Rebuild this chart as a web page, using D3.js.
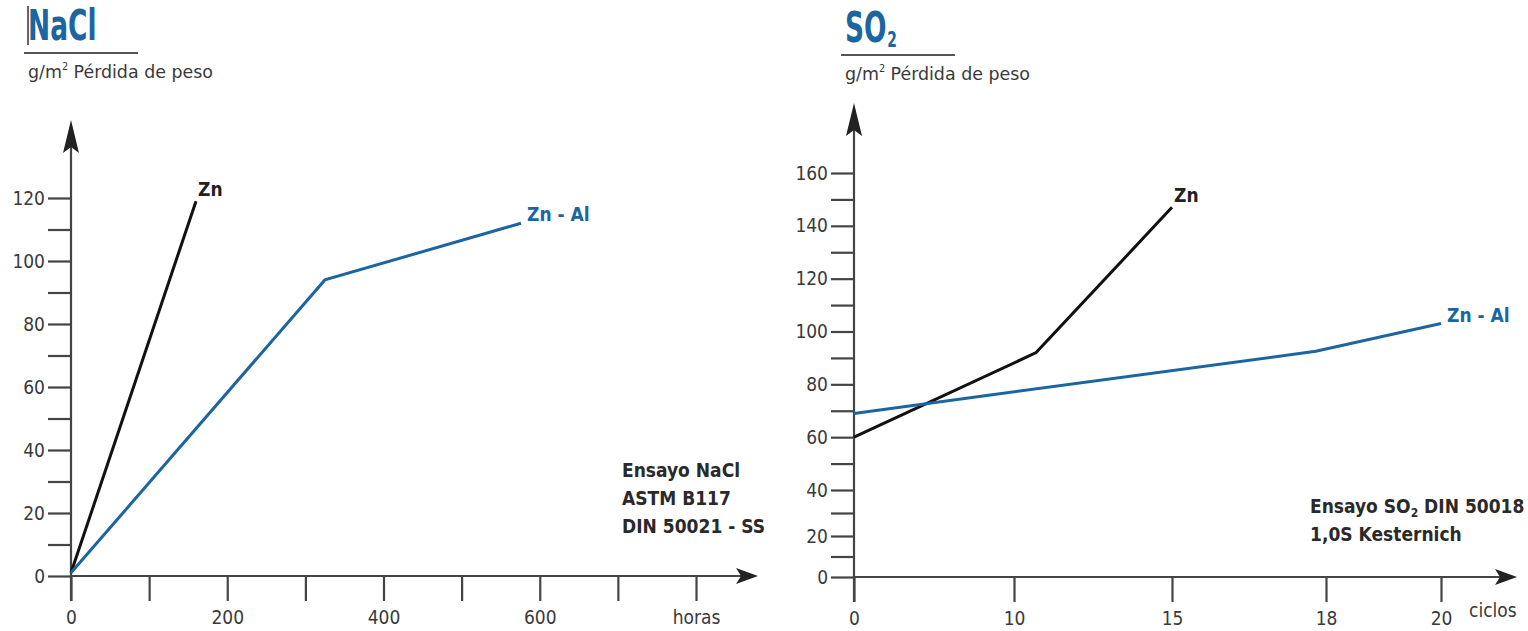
<!DOCTYPE html>
<html>
<head>
<meta charset="utf-8">
<script src="https://cdn.jsdelivr.net/npm/d3@7"></script>
<style>
  body { margin: 0; background: #fff; }
  text { font-family: "Liberation Sans Narrow", "DejaVu Sans Condensed", "Liberation Sans", sans-serif; }
</style>
</head>
<body>
<div id="chart"></div>
<script>
const width = 1528
const height = 631
const blue = "#1b65a1"
const ink = "#3a3a3a"

// datos NaCl
const naclTicksY = d3.range(0, 130, 10)
const naclTicksX = d3.range(0, 900, 100)
const naclLabelsX = {0: "0", 200: "200", 400: "400", 600: "600", 800: "horas"}
const naclZn = [[0, 1], [160, 119]]
const naclZnAl = [[0, 1], [325, 94], [576, 112]]
const naclNotes = ["Ensayo NaCl", "ASTM B117", "DIN 50021 - SS"]

// datos SO2
const so2TicksY = d3.range(0, 170, 10)
const so2TicksX = [0, 10, 15, 18, 20]
const so2Zn = [[0, 60], [10.7, 92], [15, 147]]
const so2ZnAl = [[0, 69], [17.8, 92.5], [20, 103]]

const svg = d3.select("div#chart").append("svg").attr("width", width).attr("height", height)

// escalas (el dibujo original no es uniforme en SO2)
const xL = d3.scaleLinear().domain([0, 800]).range([71, 696])
const yL = d3.scaleLinear().domain([0, 120]).range([576, 198])
const xR = d3.scaleLinear().domain([0, 10, 15, 18, 20]).range([854, 1014, 1172, 1326, 1441])
const yR = d3.scaleLinear().domain([0, 20, 40, 160]).range([577, 536, 490, 173])

const line = (x, y) => d3.line().x(d => x(d[0])).y(d => y(d[1]))

function drawPanel(o) {
    const g = svg.append("g")

    // titulo (letra estrecha: se comprime en horizontal)
    const t = g.append("text").attr("transform", `translate(${o.titleX},${o.titleY}) scale(0.7,1)`)
        .attr("font-size", 42).attr("font-weight", "bold").attr("fill", blue)
    t.append("tspan").text(o.title)
    if (o.sub) t.append("tspan").attr("font-size", 22).attr("dx", 1).attr("dy", 5).text(o.sub)
    g.append("line").attr("x1", o.titleX - 4).attr("x2", o.titleX + 110)
        .attr("y1", o.ruleY).attr("y2", o.ruleY).attr("stroke", "#555").attr("stroke-width", 2)
    const u = g.append("text").attr("x", o.titleX).attr("y", o.ruleY + 25)
        .attr("font-size", 18).attr("fill", ink)
        .attr("textLength", 185).attr("lengthAdjust", "spacingAndGlyphs")
    u.append("tspan").text("g/m")
    u.append("tspan").attr("font-size", 10).attr("dy", -8).text("2")
    u.append("tspan").attr("dy", 8).text(" Pérdida de peso")

    // eje y
    const yAxis = d3.axisLeft(o.y).tickValues(o.ticksY).tickSize(23).tickPadding(3)
        .tickFormat(d => d % 20 === 0 ? d : "")
    const ya = g.append("g").attr("transform", `translate(${o.x.range()[0]},0)`).call(yAxis)
    ya.select(".domain").remove()
    ya.selectAll("line").attr("stroke", "#444").attr("stroke-width", 2.2)
    ya.selectAll("text").attr("font-size", 19).attr("fill", ink).attr("font-family", null)

    // eje x
    const xAxis = d3.axisBottom(o.x).tickValues(o.ticksX).tickSize(25).tickPadding(10)
        .tickFormat(o.fmtX)
    const xa = g.append("g").attr("transform", `translate(0,${o.y.range()[0]})`).call(xAxis)
    xa.select(".domain").remove()
    xa.selectAll("line").attr("stroke", "#444").attr("stroke-width", 2.2)
    xa.selectAll("text").attr("font-size", 19).attr("fill", ink).attr("font-family", null)

    const x0 = o.x.range()[0], y0 = o.y.range()[0]
    g.append("line").attr("x1", x0).attr("x2", x0).attr("y1", y0 + 25).attr("y2", o.arrowTop + 20)
        .attr("stroke", "#444").attr("stroke-width", 2.2)
    g.append("line").attr("x1", x0).attr("x2", o.arrowRight - 15).attr("y1", y0).attr("y2", y0)
        .attr("stroke", "#444").attr("stroke-width", 2.2)
    // flechas
    g.append("path").attr("fill", "#222")
        .attr("d", `M${x0},${o.arrowTop} L${x0 + 8},${o.arrowTop + 33} L${x0},${o.arrowTop + 27} L${x0 - 8},${o.arrowTop + 33} Z`)
    g.append("path").attr("fill", "#222")
        .attr("d", `M${o.arrowRight},${y0} L${o.arrowRight - 22},${y0 + 8} L${o.arrowRight - 17},${y0} L${o.arrowRight - 22},${y0 - 8} Z`)

    // series
    g.append("path").datum(o.zn).attr("d", line(o.x, o.y))
        .attr("fill", "none").attr("stroke", "#111").attr("stroke-width", 3)
    g.append("path").datum(o.znal).attr("d", line(o.x, o.y))
        .attr("fill", "none").attr("stroke", blue).attr("stroke-width", 3)

    const zEnd = o.zn[o.zn.length - 1], aEnd = o.znal[o.znal.length - 1]
    g.append("text").attr("x", o.x(zEnd[0]) + 2).attr("y", o.y(zEnd[1]) - 5)
        .attr("font-size", 19).attr("font-weight", "bold").attr("fill", "#222").text("Zn")
    g.append("text").attr("x", o.x(aEnd[0]) + 6).attr("y", o.y(aEnd[1]) - 2)
        .attr("font-size", 19).attr("font-weight", "bold").attr("fill", blue).text("Zn - Al")
    return g
}

const left = drawPanel({
    title: "NaCl", titleX: 28, titleY: 40, ruleY: 53, x: xL, y: yL,
    ticksY: naclTicksY, ticksX: naclTicksX, fmtX: d => naclLabelsX[d] || "",
    zn: naclZn, znal: naclZnAl, arrowTop: 120, arrowRight: 758
})
// cursor del original
left.append("line").attr("x1", 28).attr("x2", 28).attr("y1", 6).attr("y2", 45)
    .attr("stroke", "#333").attr("stroke-width", 1.5)

naclNotes.forEach((s, i) => {
    left.append("text").attr("x", 622).attr("y", 477 + i * 28)
        .attr("font-size", 19).attr("font-weight", "bold").attr("fill", "#2a2a2a").text(s)
})

const right = drawPanel({
    title: "SO", sub: "2", titleX: 845, titleY: 42, ruleY: 55, x: xR, y: yR,
    ticksY: so2TicksY, ticksX: so2TicksX, fmtX: d => d,
    zn: so2Zn, znal: so2ZnAl, arrowTop: 103, arrowRight: 1517
})
right.append("text").attr("x", 1469).attr("y", 617).attr("font-size", 19).attr("fill", ink).text("ciclos")

const n1 = right.append("text").attr("x", 1310).attr("y", 513)
    .attr("font-size", 19).attr("font-weight", "bold").attr("fill", "#2a2a2a")
n1.append("tspan").text("Ensayo SO")
n1.append("tspan").attr("font-size", 12).attr("dy", 4).text("2")
n1.append("tspan").attr("dy", -4).text(" DIN 50018")
right.append("text").attr("x", 1310).attr("y", 541)
    .attr("font-size", 19).attr("font-weight", "bold").attr("fill", "#2a2a2a").text("1,0S Kesternich")
</script>
</body>
</html>
